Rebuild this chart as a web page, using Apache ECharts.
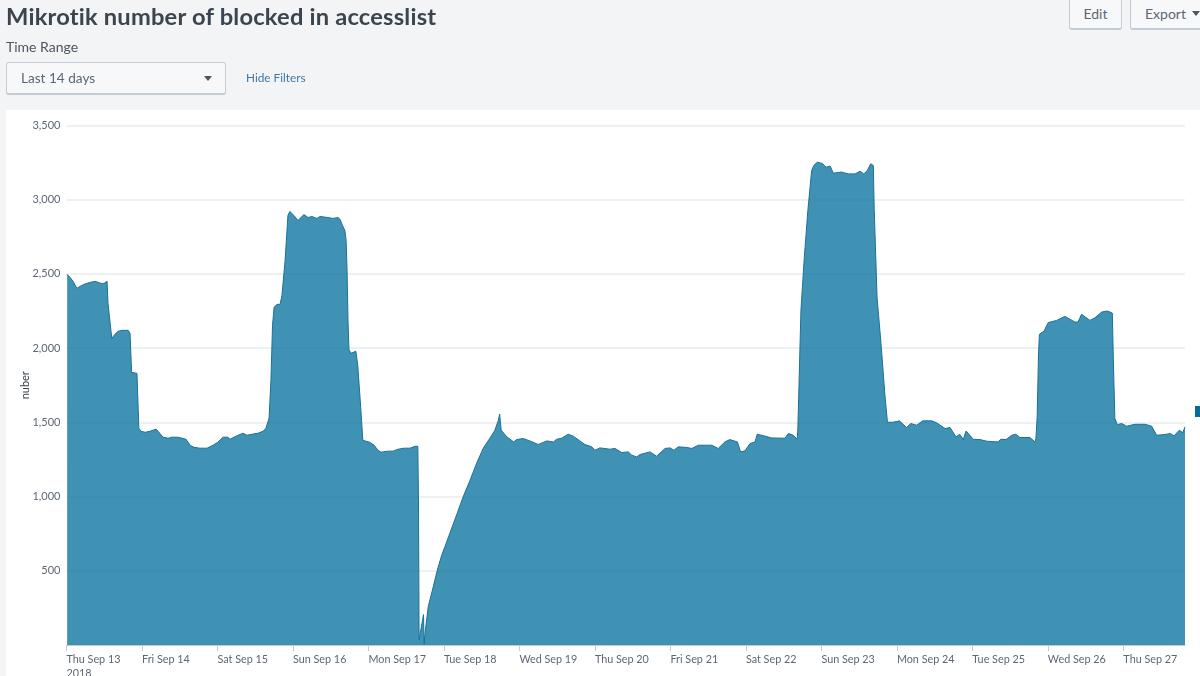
<!DOCTYPE html>
<html>
<head>
<meta charset="utf-8">
<title>Mikrotik number of blocked in accesslist</title>
<script src="https://cdn.jsdelivr.net/npm/echarts@6/dist/echarts.min.js"></script>
<style>
html, body { margin: 0; padding: 0; width: 1200px; height: 676px; overflow: hidden; background: #f2f4f5; font-family: Lato, "Open Sans", sans-serif; color: #3c444d; }
.abs { position: absolute; white-space: nowrap; }
#panel { left: 6px; top: 110px; width: 1194px; height: 566px; background: #fff; }
#chart { left: 0; top: 0; width: 1200px; height: 676px; }
#title { left: 6px; top: 1px; font-size: 23.7px; line-height: 30px; font-weight: 700; color: #3c444d; letter-spacing: 0.2px; }
#range { left: 6px; top: 38px; font-size: 14px; line-height: 18px; color: #4c555e; }
#picker { left: 6px; top: 62px; width: 218px; height: 30px; background: #f7f8fa; border: 1px solid #c3cbd4; border-bottom-width: 2px; border-radius: 3px; font-size: 13.6px; line-height: 30px; color: #5c6773; text-indent: 14px; }
#hide { left: 246px; top: 70px; font-size: 11.8px; line-height: 16px; color: #3f78a8; }
.btn { top: -4px; height: 31px; background: #f7f8fa; border: 1px solid #c3cbd4; border-bottom-width: 2px; border-radius: 3px; font-size: 14px; line-height: 34px; color: #5c6773; text-align: center; }
#edit { left: 1069px; width: 51px; }
#export { left: 1130px; width: 80px; text-align: left; text-indent: 14px; }
.caret { width: 0; height: 0; border-left: 4px solid transparent; border-right: 4px solid transparent; border-top: 5px solid #4c555e; }
#mark { left: 1195px; top: 406px; width: 5px; height: 11px; background: #006d9c; }
</style>
</head>
<body>
<div class="abs" id="panel"></div>
<div class="abs" id="chart"></div>
<div class="abs" id="title">Mikrotik number of blocked in accesslist</div>
<div class="abs" id="range">Time Range</div>
<div class="abs" id="picker">Last 14 days</div>
<div class="abs caret" style="left:204px;top:76px"></div>
<div class="abs" id="hide">Hide Filters</div>
<div class="abs btn" id="edit">Edit</div>
<div class="abs btn" id="export">Export</div>
<div class="abs caret" style="left:1192px;top:11px"></div>
<div class="abs" id="mark"></div>
<script>
// hours since Thu Sep 13 00:00
var hours = [
    0.2,1.1,2.1,3.3,4.3,5.6,7.5,9.1,11,11.9,12.9,13.2,14.4,15.4,16.4,17.6,19.6,20.2,20.7,22.4,
    23,23.7,25,26.5,28.5,29.1,30.7,32.3,33.5,35.4,38,39.3,40.5,42.4,44.7,45.3,46.6,48.1,49.8,51.3,
    52,53.9,56.1,57.4,59,60.9,62.5,63.4,64.4,65,65.5,66,66.9,67.9,68.5,69.5,70.4,71,72.3,73.6,
    74.2,75.5,76.8,78,79.6,80.6,83.1,84.7,86.3,87,87.6,88.5,88.9,89.2,89.5,89.8,90.4,92,92.6,93.6,
    94.2,95.2,96.4,97.8,99,100,102.2,103.8,105.4,107.3,109.2,110.8,111.7,111.9,112.1,113.5,113.7,114,115,116.6,
    117.9,119.3,120.3,121.9,124,126.1,128.3,130.4,132.5,134.6,136.2,137.3,137.7,138.2,140,142.2,143.1,145.2,147.3,150,
    152.7,154.8,155.8,157.4,159.5,161.1,163.2,164.8,167,168,169.6,172.8,174.4,176.5,178.6,179.7,181.3,182.3,185.5,187.6,
    190.3,191.9,193.1,194.5,197.2,198.8,200.9,205.1,207.2,209.3,210.9,213.3,214.3,215.7,217.3,218.9,219.6,222.1,224.2,228.4,
    229.5,231.1,232.3,232.5,233.5,234.5,235.7,236.9,237.6,238.7,240.3,241.5,242.8,243.8,246.4,248.5,250.7,252.3,253.5,254.6,
    255.7,256.5,256.8,257.7,259,260.2,261,261.3,262.8,264.8,267.1,268.4,270.3,272.2,275.1,276.7,279.3,280.9,282.8,284,
    285.1,286,288.3,290.4,292.6,296.2,297,298.7,300.5,301.8,303.1,306.3,307.9,308.2,308.6,309,309.3,310.8,312.1,314.8,
    317.4,320.6,321.6,322.7,325.4,327,329.1,330.9,332.5,332.8,333.3,334.1,335.5,337,339.7,342.9,345,346.6,349.3,350.9,
    352.1,353.8,354.9,355.6
];
var blocked = [
    2497,2477,2450,2403,2416,2430,2443,2450,2436,2436,2450,2300,2066,2093,2113,2120,2120,2100,1837,1830,
    1460,1440,1433,1440,1454,1440,1400,1393,1400,1400,1386,1346,1332,1326,1326,1319,1346,1366,1400,1400,
    1386,1407,1427,1413,1420,1427,1440,1460,1528,1783,2154,2275,2295,2295,2355,2591,2894,2921,2894,2860,
    2867,2900,2880,2887,2874,2887,2880,2874,2880,2867,2833,2793,2726,2524,2187,1992,1965,1979,1884,1582,
    1380,1373,1366,1346,1312,1299,1306,1306,1319,1326,1326,1339,1339,976,34,205,5,80,258,392,
    505,606,662,754,875,998,1110,1225,1326,1393,1447,1514,1555,1447,1402,1368,1384,1391,1375,1351,
    1375,1368,1386,1393,1420,1407,1375,1351,1335,1312,1328,1319,1324,1297,1301,1279,1267,1283,1301,1272,
    1324,1328,1312,1335,1331,1324,1346,1346,1324,1368,1384,1368,1301,1308,1357,1368,1420,1407,1395,1393,
    1425,1413,1386,1447,2255,2590,2928,3197,3231,3253,3244,3219,3226,3179,3186,3174,3174,3192,3174,3197,
    3242,3231,2928,2342,2019,1683,1501,1503,1501,1510,1465,1492,1481,1510,1510,1496,1458,1465,1402,1420,
    1384,1442,1386,1384,1373,1368,1386,1384,1413,1420,1398,1398,1368,1391,1536,1940,2093,2115,2172,2187,
    2214,2176,2176,2228,2187,2205,2243,2250,2236,1940,1526,1485,1492,1474,1487,1487,1474,1413,1418,1425,
    1409,1447,1431,1469
];
var dayLabels = ['Thu Sep 13\n2018','Fri Sep 14','Sat Sep 15','Sun Sep 16','Mon Sep 17','Tue Sep 18','Wed Sep 19','Thu Sep 20',
    'Fri Sep 21','Sat Sep 22','Sun Sep 23','Mon Sep 24','Tue Sep 25','Wed Sep 26','Thu Sep 27'];
var dayTicks = dayLabels.map(function(label, i){ return i * 24; });

var myChart = echarts.init(document.getElementById('chart'));

myChart.setOption({
    animation: false,
    grid: { left: 66.5, top: 125.5, width: 1118.5, height: 519.5, containLabel: false, outerBoundsMode: 'none' },
    xAxis: {
        type: 'value',
        min: 0,
        max: 355.6,
        interval: 24,
        splitLine: { show: false },
        axisLine: { show: true, lineStyle: { color: '#c3cbd4', width: 1 } },
        axisTick: { show: true, length: 6, customValues: dayTicks, lineStyle: { color: '#c3cbd4' } },
        axisLabel: {
            customValues: dayTicks,
            align: 'left',
            verticalAlign: 'top',
            margin: 8,
            lineHeight: 14,
            fontFamily: 'Lato',
            fontSize: 10.8,
            color: '#5c6773',
            formatter: function(value){ return dayLabels[value / 24]; }
        }
    },
    yAxis: {
        type: 'value',
        min: 0,
        max: 3500,
        interval: 500,
        name: 'nuber',
        nameLocation: 'middle',
        nameGap: 36,
        nameMoveOverlap: false,
        nameTextStyle: { fontFamily: 'Lato', fontSize: 11, color: '#3c444d' },
        axisLine: { show: false },
        axisTick: { show: false },
        splitLine: { lineStyle: { color: '#e8ecee', width: 1.5 } },
        axisLabel: {
            margin: 6,
            fontFamily: 'Lato',
            fontSize: 11,
            color: '#5c6773',
            formatter: function(value){ return value === 0 ? '' : value.toLocaleString('en-US'); }
        }
    },
    series: [{
        type: 'line',
        name: 'nuber',
        showSymbol: false,
        smooth: false,
        data: hours.map(function(h, i){ return [h, blocked[i]]; }),
        lineStyle: { color: '#1a7199', width: 1 },
        itemStyle: { color: '#006d9c' },
        areaStyle: { color: '#006d9c', opacity: 0.75 }
    }]
});

window.onresize = function(){
    myChart.resize();
};
</script>
</body>
</html>
